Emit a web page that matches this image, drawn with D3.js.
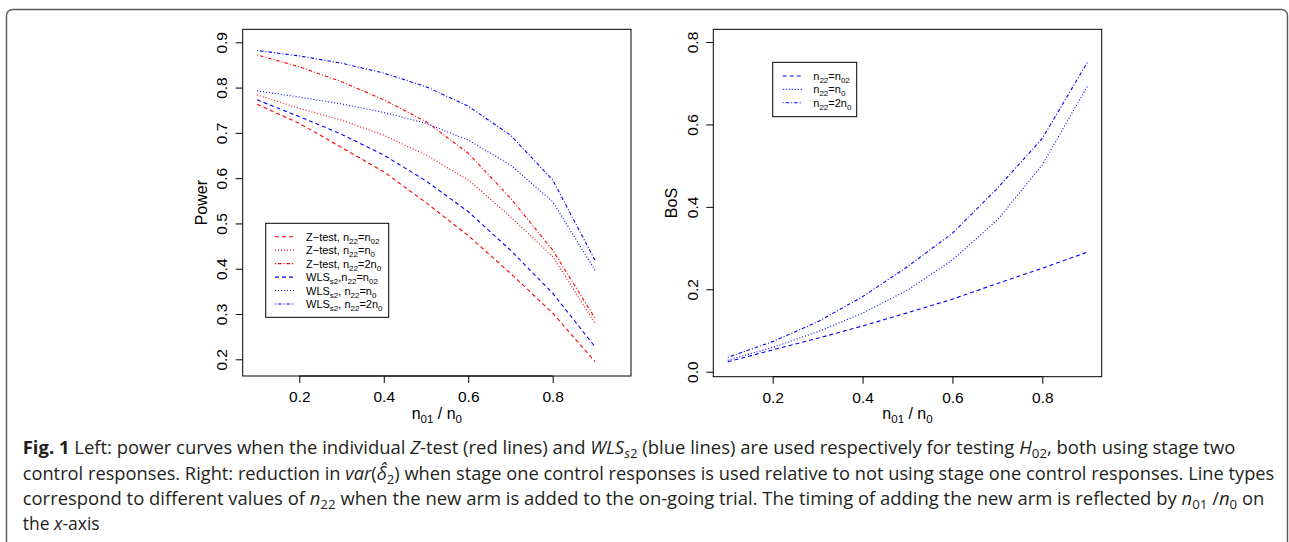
<!DOCTYPE html>
<html><head><meta charset="utf-8">
<script src="https://cdn.jsdelivr.net/npm/d3@7"></script>
<style>body{margin:0;background:#fff}svg{display:block}</style>
</head><body>
<script>
// ---- data ----
const xVals = [0.1,0.2,0.3,0.4,0.5,0.6,0.7,0.8,0.9];
const zTestN02 = [0.763,0.721,0.668,0.614,0.546,0.473,0.390,0.302,0.195];
const zTestN0  = [0.784,0.754,0.728,0.695,0.651,0.596,0.515,0.427,0.280];
const zTest2N0 = [0.872,0.846,0.813,0.773,0.725,0.655,0.556,0.441,0.291];
const wlsN02   = [0.773,0.736,0.697,0.651,0.594,0.526,0.441,0.346,0.228];
const wlsN0    = [0.793,0.779,0.764,0.745,0.721,0.684,0.629,0.548,0.397];
const wls2N0   = [0.882,0.870,0.854,0.832,0.802,0.759,0.695,0.596,0.419];
const bosN02   = [0.024,0.053,0.081,0.111,0.143,0.176,0.214,0.251,0.290];
const bosN0    = [0.028,0.059,0.097,0.142,0.198,0.271,0.368,0.502,0.692];
const bos2N0   = [0.035,0.073,0.121,0.182,0.255,0.336,0.445,0.566,0.750];
const xTicks = [0.2,0.4,0.6,0.8];
const powerTicks = [0.2,0.3,0.4,0.5,0.6,0.7,0.8,0.9];
const bosTicks = [0.0,0.2,0.4,0.6,0.8];
const leftLegend = [
  [["Z\u2212test, n",0],["22",1],["=n",0],["02",1]],
  [["Z\u2212test, n",0],["22",1],["=n",0],["0",1]],
  [["Z\u2212test, n",0],["22",1],["=2n",0],["0",1]],
  [["WLS",0],["s2",1],[",n",0],["22",1],["=n",0],["02",1]],
  [["WLS",0],["s2",1],[", n",0],["22",1],["=n",0],["0",1]],
  [["WLS",0],["s2",1],[", n",0],["22",1],["=2n",0],["0",1]]
];
const rightLegend = [
  [["n",0],["22",1],["=n",0],["02",1]],
  [["n",0],["22",1],["=n",0],["0",1]],
  [["n",0],["22",1],["=2n",0],["0",1]]
];
const RED = "#ff0000", BLUE = "#0000ff";
const DASH = "4,3", DOT = "1,2", DOTDASH = "1,2,3.5,2";

const W = 1289, H = 542;
const svg = d3.select("body").append("svg").attr("width", W).attr("height", H);
const PF = "'Liberation Sans', Arial, Helvetica, sans-serif";

// outer frame
svg.append("rect").attr("x",6.5).attr("y",9.5).attr("width",1281).attr("height",600)
  .attr("rx",6).attr("fill","none").attr("stroke","#5a5a5a").attr("stroke-width",1.4);

function richText(g, x, y, segs, size, subSize, anchor){
  const t = g.append("text").attr("x",x).attr("y",y).attr("font-family",PF)
    .attr("font-size",size).attr("fill","#000").attr("text-anchor",anchor||"start");
  let sub = false;
  segs.forEach(([s,isSub])=>{
    const ts = t.append("tspan").text(s);
    if(isSub && !sub){ ts.attr("dy", size*0.28).attr("font-size",subSize); sub=true; }
    else if(isSub){ ts.attr("font-size",subSize); }
    else if(!isSub && sub){ ts.attr("dy", -size*0.28); sub=false; }
  });
  return t;
}

function panel(cfg){
  const g = svg.append("g");
  const x = d3.scaleLinear().domain([0.2,0.8]).range(cfg.xr);
  const y = d3.scaleLinear().domain(cfg.yd).range(cfg.yr);
  const [bx0,bx1,by0,by1] = cfg.box;
  const clipId = "clip"+cfg.id;
  svg.append("clipPath").attr("id",clipId).append("rect")
    .attr("x",bx0).attr("y",by0).attr("width",bx1-bx0).attr("height",by1-by0);
  // axes
  const xa = g.append("g").attr("transform",`translate(0,${by1})`)
    .call(d3.axisBottom(x).tickValues(xTicks).tickSize(7).tickPadding(4).tickFormat(d3.format(".1f")));
  xa.select(".domain").attr("d",`M${x(0.2)},0H${x(0.8)}`);
  xa.selectAll("text").attr("font-family",PF).attr("font-size",15.5).attr("fill","#000").attr("dy",null).attr("y",26);
  const ya = g.append("g").attr("transform",`translate(${bx0},0)`)
    .call(d3.axisLeft(y).tickValues(cfg.yt).tickSize(7).tickFormat(d3.format(".1f")));
  ya.select(".domain").remove();
  ya.selectAll("text").attr("font-family",PF).attr("font-size",15.5).attr("fill","#000")
    .attr("x",null).attr("dy",null).attr("text-anchor","middle")
    .attr("transform",`translate(${cfg.ylabX - bx0},0) rotate(-90)`).attr("y",0);
  g.selectAll(".tick line").attr("stroke","#000");
  // box
  g.append("rect").attr("x",bx0).attr("y",by0).attr("width",bx1-bx0).attr("height",by1-by0)
    .attr("fill","none").attr("stroke","#000").attr("stroke-width",1);
  // lines
  const line = d3.line().x((d,i)=>x(xVals[i])).y(d=>y(d));
  const lg = g.append("g").attr("clip-path",`url(#${clipId})`);
  cfg.series.forEach(s=>{
    lg.append("path").attr("d",line(s.v)).attr("fill","none").attr("stroke",s.c)
      .attr("stroke-width",1.1).attr("stroke-dasharray",s.d);
  });
  // axis titles
  const yl = g.append("text").attr("transform",`translate(${cfg.titleX},${(by0+by1)/2}) rotate(-90)`)
    .attr("text-anchor","middle").attr("font-family",PF).attr("font-size",16).text(cfg.ytitle);
  richText(g,(bx0+bx1)/2,419,[["n",0],["01",1],[" / n",0],["0",1]],16,11.5,"middle");
  // legend
  const L = cfg.legend;
  g.append("rect").attr("x",L.x0).attr("y",L.y0).attr("width",L.x1-L.x0).attr("height",L.y1-L.y0)
    .attr("fill","#fff").attr("stroke","#000").attr("stroke-width",1);
  L.items.forEach((segs,i)=>{
    const yy = L.first + i*L.step;
    const s = cfg.series[i];
    g.append("line").attr("x1",L.lx0).attr("x2",L.lx1).attr("y1",yy).attr("y2",yy)
      .attr("stroke",s.c).attr("stroke-width",1.1).attr("stroke-dasharray",s.d);
    richText(g,L.tx,yy+4,segs,11,8);
  });
}

panel({
  id:"L", xr:[299.3,552.7], yd:[0.2,0.9], yr:[359.3,42.3], yt:powerTicks,
  box:[242.7,631,29.3,376], ylabX:226.7, titleX:207, ytitle:"Power",
  series:[
    {v:zTestN02,c:RED,d:DASH},{v:zTestN0,c:RED,d:DOT},{v:zTest2N0,c:RED,d:DOTDASH},
    {v:wlsN02,c:BLUE,d:DASH},{v:wlsN0,c:BLUE,d:DOT},{v:wls2N0,c:BLUE,d:DOTDASH}
  ],
  legend:{x0:265.7,x1:388.7,y0:223.3,y1:317.3,first:236.7,step:13.46,lx0:275,lx1:295,tx:306,items:leftLegend}
});
panel({
  id:"R", xr:[772.7,1042.3], yd:[0,0.8], yr:[371.7,42], yt:bosTicks,
  box:[713.3,1101.7,29.3,376.7], ylabX:698, titleX:677, ytitle:"BoS",
  series:[{v:bosN02,c:BLUE,d:DASH},{v:bosN0,c:BLUE,d:DOT},{v:bos2N0,c:BLUE,d:DOTDASH}],
  legend:{x0:772.7,x1:856.7,y0:62.3,y1:116.7,first:76,step:13.35,lx0:782.7,lx1:802.7,tx:813.3,items:rightLegend}
});

// caption
const CF = "'Open Sans','Noto Sans',sans-serif";
const capLines = [
  {y:454.3, w:1214, segs:[["Fig. 1","b"],[" Left: power curves when the individual ",""],["Z","i"],["-test (red lines) and ",""],["WLS","i"],["s","si"],["2","s"],[" (blue lines) are used respectively for testing ",""],["H","i"],["02","s"],[", both using stage two",""]]},
  {y:480, w:1252, segs:[["control responses. Right: reduction in ",""],["var","i"],["(",""],["\u03B4\u0302","i"],["2","s"],[") when stage one control responses is used relative to not using stage one control responses. Line types",""]]},
  {y:505.2, w:1242, segs:[["correspond to different values of ",""],["n","i"],["22","s"],[" when the new arm is added to the on-going trial. The timing of adding the new arm is reflected by ",""],["n","i"],["01","s"],[" /",""],["n","i"],["0","s"],[" on",""]]},
  {y:530.3, w:77, segs:[["the ",""],["x","i"],["-axis",""]]}
];
capLines.forEach(L=>{
  const t = svg.append("text").attr("x",0).attr("y",0).attr("font-family",CF)
    .attr("font-size",18).attr("fill","#231f20");
  let sub=false;
  L.segs.forEach(([s,f])=>{
    const ts = t.append("tspan").text(s);
    const isSub = f==="s"||f==="si";
    if(f==="b") ts.attr("font-weight","bold");
    if(f==="i"||f==="si") ts.attr("font-style","italic");
    if(isSub){ ts.attr("font-size",13); if(!sub){ts.attr("dy",4); sub=true;} }
    else if(sub){ ts.attr("dy",-4); sub=false; }
  });
  const w = t.node().getComputedTextLength();
  t.attr("transform",`translate(22.7,${L.y}) scale(${L.w/w},1)`);
});
</script>
</body></html>
